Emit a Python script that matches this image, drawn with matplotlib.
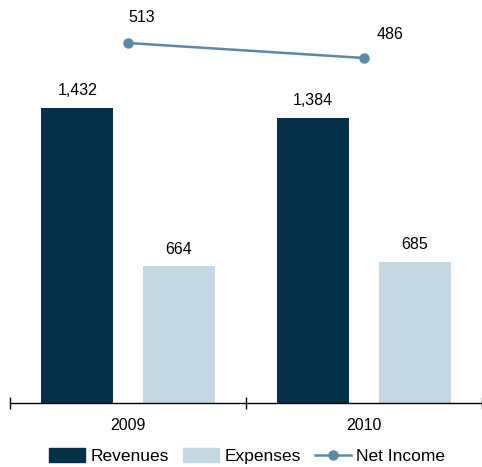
import matplotlib.pyplot as plt
from matplotlib.patches import Patch
from matplotlib.lines import Line2D

plt.rcParams['font.family'] = ['Liberation Sans', 'DejaVu Sans']

years = ['2009', '2010']
revenues = [1432, 1384]
expenses = [664, 685]
net_income = [513, 486]

navy = '#053049'
light = '#c5d7e0'
teal = '#5a8aa5'

fig = plt.figure(figsize=(4.82, 4.67), dpi=100)
W, H = 482, 467
ax = fig.add_axes([10 / W, (H - 403) / H, (W - 10) / W, 393 / H])

x = list(range(len(years)))
bw = 0.307
off = 0.215
fs = 11.5
ax.bar([i - off for i in x], revenues, bw, color=navy)
ax.bar([i + off for i in x], expenses, bw, color=light)
for i in x:
    ax.annotate(f'{revenues[i]:,}', (i - off, revenues[i]), xytext=(0, 7),
                textcoords='offset points', ha='center', va='bottom', fontsize=fs)
    ax.annotate(f'{expenses[i]:,}', (i + off, expenses[i]), xytext=(0, 7),
                textcoords='offset points', ha='center', va='bottom', fontsize=fs)

ax.set_xlim(-0.5, 1.47)
ax.set_ylim(0, 1908)
ax.set_yticks([])
for s in ['left', 'right', 'top']:
    ax.spines[s].set_visible(False)
ax.spines['bottom'].set_linewidth(1)
ax.set_xticks(x)
ax.set_xticklabels(years, fontsize=fs)
ax.tick_params(axis='x', which='major', length=0, pad=11)
ax.set_xticks([-0.5, 0.5, 1.5], minor=True)
ax.tick_params(axis='x', which='minor', direction='inout', length=8, width=1)

ax2 = ax.twinx()
ax2.plot(x, net_income, color=teal, lw=1.8, marker='o', ms=6.5)
ax2.set_ylim(-135, 572.4)
ax2.axis('off')
lbl_off = [(10, 18), (19, 17)]
for i in x:
    ax2.annotate(f'{net_income[i]}', (i, net_income[i]), xytext=lbl_off[i],
                 textcoords='offset points', ha='center', va='center', fontsize=fs)

handles = [Patch(color=navy), Patch(color=light),
           Line2D([], [], color=teal, lw=1.8, marker='o', ms=6.5)]
fig.legend(handles, ['Revenues', 'Expenses', 'Net Income'], loc='center',
           bbox_to_anchor=(247 / W, (H - 456) / H), ncol=3, frameon=False,
           fontsize=12.5, handlelength=2.1, handleheight=0.9, handletextpad=0.3,
           columnspacing=0.8)

fig.savefig('out.png', dpi=100)
